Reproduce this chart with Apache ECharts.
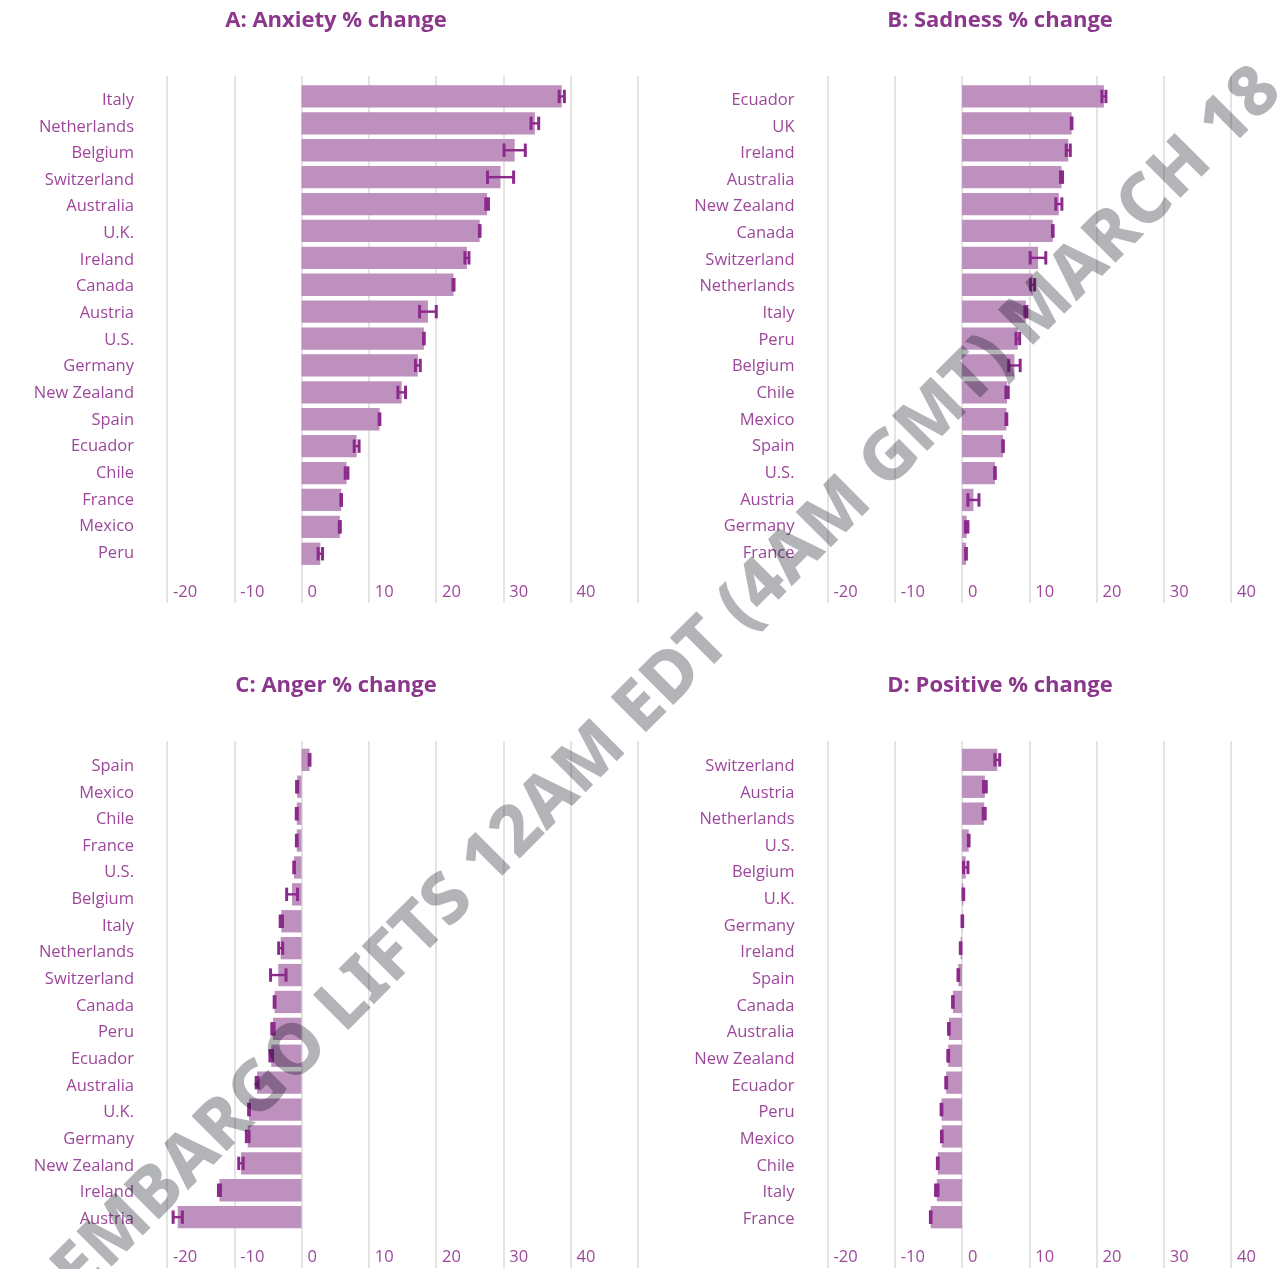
<!DOCTYPE html>
<html>
<head>
<meta charset="utf-8">
<title>Emotion % change by country</title>
<script src="https://cdn.jsdelivr.net/npm/echarts@6/dist/echarts.min.js"></script>
<style>
  html, body { margin: 0; padding: 0; background: #ffffff; }
  #chart { width: 1287px; height: 1269px; }
</style>
</head>
<body>
<div id="chart"></div>
<script>
// ---- data -------------------------------------------------------------
const anxietyCountries = ['Italy', 'Netherlands', 'Belgium', 'Switzerland', 'Australia', 'U.K.', 'Ireland', 'Canada', 'Austria', 'U.S.', 'Germany', 'New Zealand', 'Spain', 'Ecuador', 'Chile', 'France', 'Mexico', 'Peru'];
const anxietyValues = [38.7, 34.7, 31.7, 29.6, 27.6, 26.5, 24.6, 22.6, 18.8, 18.2, 17.3, 14.9, 11.6, 8.2, 6.7, 5.9, 5.7, 2.8];
const anxietyErrors = [0.39, 0.57, 1.58, 1.94, 0.2, 0.05, 0.3, 0.08, 1.24, 0.05, 0.36, 0.57, 0.05, 0.36, 0.2, 0.05, 0.07, 0.33];

const sadnessCountries = ['Ecuador', 'UK', 'Ireland', 'Australia', 'New Zealand', 'Canada', 'Switzerland', 'Netherlands', 'Italy', 'Peru', 'Belgium', 'Chile', 'Mexico', 'Spain', 'U.S.', 'Austria', 'Germany', 'France'];
const sadnessValues = [21.1, 16.3, 15.8, 14.8, 14.4, 13.5, 11.3, 10.5, 9.5, 8.3, 7.8, 6.7, 6.6, 6.1, 4.9, 1.7, 0.7, 0.6];
const sadnessErrors = [0.3, 0.05, 0.3, 0.15, 0.45, 0.05, 1.16, 0.3, 0.15, 0.27, 0.85, 0.18, 0.06, 0.05, 0.05, 0.82, 0.18, 0.05];

const angerCountries = ['Spain', 'Mexico', 'Chile', 'France', 'U.S.', 'Belgium', 'Italy', 'Netherlands', 'Switzerland', 'Canada', 'Peru', 'Ecuador', 'Australia', 'U.K.', 'Germany', 'New Zealand', 'Ireland', 'Austria'];
const angerValues = [1.2, -0.65, -0.7, -0.7, -1.1, -1.4, -3.0, -3.1, -3.45, -4.0, -4.25, -4.5, -6.6, -7.8, -8.0, -9.0, -12.2, -18.4];
const angerErrors = [0.06, 0.08, 0.08, 0.06, 0.05, 0.81, 0.17, 0.3, 1.15, 0.06, 0.17, 0.2, 0.14, 0.06, 0.2, 0.33, 0.15, 0.69];

const positiveCountries = ['Switzerland', 'Austria', 'Netherlands', 'U.S.', 'Belgium', 'U.K.', 'Germany', 'Ireland', 'Spain', 'Canada', 'Australia', 'New Zealand', 'Ecuador', 'Peru', 'Mexico', 'Chile', 'Italy', 'France'];
const positiveValues = [5.25, 3.4, 3.3, 1.0, 0.55, 0.2, 0.05, -0.2, -0.55, -1.35, -1.95, -2.05, -2.35, -3.05, -3.0, -3.6, -3.75, -4.65];
const positiveErrors = [0.36, 0.21, 0.15, 0.05, 0.33, 0.05, 0.05, 0.05, 0.05, 0.05, 0.05, 0.06, 0.06, 0.06, 0.05, 0.06, 0.18, 0.05];

const panelTitles = ['A: Anxiety % change', 'B: Sadness % change', 'C: Anger % change', 'D: Positive % change'];
const xMin = -20, xMax = 50, xStep = 10, xLastLabel = 40;
const embargoText = 'EMBARGO LIFTS 12AM EDT (4AM GMT) MARCH 18';

// ---- styling ----------------------------------------------------------
const PAGE_W = 1287;
const FONT = '"Open Sans", "Noto Sans", sans-serif';
const TITLE_COLOR = '#8b378b';
const LABEL_COLOR = '#9d479b';
const BAR_COLOR = '#bd90bd';
const ERR_COLOR = '#8c2a8c';
const GRID_COLOR = '#dedede';
// near-black at low alpha: reads as a neutral grey on white and darkens whatever lies beneath
const NOTICE_COLOR = 'rgba(2, 8, 19, 0.3)';
const UNIT_PX = 6.725;            // pixels per percentage point

// panel frames (pixels)
const columnLefts = [167, 827.5];
const rows = [
  { ruleTop: 76, ruleBottom: 603, barTop: 83, labelTop: 86.9, titleY: 21 },
  { ruleTop: 741, ruleBottom: 1268, barTop: 746.4, labelTop: 752.9, titleY: 686 }
];
const BAR_BAND = 26.9;
const LABEL_BAND = 26.64;
const titleCenters = [336, 1000];

const panels = [
  { countries: anxietyCountries, values: anxietyValues, errors: anxietyErrors },
  { countries: sadnessCountries, values: sadnessValues, errors: sadnessErrors },
  { countries: angerCountries, values: angerValues, errors: angerErrors },
  { countries: positiveCountries, values: positiveValues, errors: positiveErrors }
];

function renderErrorBar(params, api) {
  const idx = api.value(0);
  const lo = api.coord([api.value(1), idx]);
  const hi = api.coord([api.value(2), idx]);
  const half = 6.7;
  const capStyle = { stroke: ERR_COLOR, lineWidth: 3, fill: null };
  const barStyle = { stroke: ERR_COLOR, lineWidth: 2.4, fill: null };
  return {
    type: 'group',
    children: [
      { type: 'line', shape: { x1: lo[0], y1: lo[1], x2: hi[0], y2: hi[1] }, style: barStyle },
      { type: 'line', shape: { x1: lo[0], y1: lo[1] - half, x2: lo[0], y2: lo[1] + half }, style: capStyle },
      { type: 'line', shape: { x1: hi[0], y1: hi[1] - half, x2: hi[0], y2: hi[1] + half }, style: capStyle }
    ]
  };
}

const grid = [], xAxis = [], yAxis = [], series = [], graphic = [];

panels.forEach((p, i) => {
  const left = columnLefts[i % 2];
  const row = rows[Math.floor(i / 2)];
  // the right-hand column runs off the page edge, so its axis stops there
  const max = Math.min(xMax, xMin + (PAGE_W - left) / UNIT_PX);
  const width = (max - xMin) * UNIT_PX;
  const n = p.countries.length;

  const gRule = grid.length;
  grid.push({ left: left, top: row.ruleTop, width: width, height: row.ruleBottom - row.ruleTop });
  const gLabel = grid.length;
  grid.push({ left: left, top: row.labelTop, width: width, height: LABEL_BAND * n });
  const gBar = grid.length;
  grid.push({ left: left, top: row.barTop, width: width, height: BAR_BAND * n });

  // vertical rules and tick labels
  xAxis.push({
    type: 'value', gridIndex: gRule, min: xMin, max: max, interval: xStep,
    axisLine: { show: false }, axisTick: { show: false },
    splitLine: { show: true, showMaxLine: max === xMax, lineStyle: { color: GRID_COLOR, width: 1.6 } },
    axisLabel: {
      inside: true, margin: 11, align: 'left', verticalAlign: 'middle',
      padding: [0, 0, 0, 6], color: LABEL_COLOR, fontFamily: FONT, fontSize: 16.5,
      showMaxLabel: false,
      formatter: v => (v > xLastLabel ? '' : String(v))
    }
  });
  yAxis.push({ type: 'value', gridIndex: gRule, show: false, min: 0, max: 1 });

  // country names
  xAxis.push({ type: 'value', gridIndex: gLabel, min: xMin, max: max, show: false });
  yAxis.push({
    type: 'category', gridIndex: gLabel, data: p.countries, inverse: true,
    axisLine: { show: false }, axisTick: { show: false }, splitLine: { show: false },
    axisLabel: { margin: 33, color: LABEL_COLOR, fontFamily: FONT, fontSize: 16.5 }
  });

  // bars and error bars
  xAxis.push({ type: 'value', gridIndex: gBar, min: xMin, max: max, interval: xStep, show: false });
  yAxis.push({ type: 'category', gridIndex: gBar, data: p.countries, inverse: true, show: false });

  const xi = xAxis.length - 1, yi = yAxis.length - 1;
  series.push({
    type: 'bar', xAxisIndex: xi, yAxisIndex: yi,
    data: p.values, barWidth: '83%',
    itemStyle: { color: BAR_COLOR }, silent: true, animation: false
  });
  series.push({
    type: 'custom', xAxisIndex: xi, yAxisIndex: yi,
    renderItem: renderErrorBar,
    encode: { x: [1, 2], y: 0 },
    data: p.values.map((v, k) => [k, v - p.errors[k], v + p.errors[k]]),
    z: 5, silent: true, animation: false
  });

  graphic.push({
    type: 'text', x: titleCenters[i % 2], y: row.titleY, z: 10,
    style: {
      text: panelTitles[i], fill: TITLE_COLOR,
      font: 'bold 22px ' + FONT, align: 'center', verticalAlign: 'middle'
    }
  });
});

// diagonal notice across the whole page, on top of marks and labels
graphic.push({
  type: 'text', x: 668, y: 682, rotation: 45 * Math.PI / 180, z: 100, silent: true,
  style: {
    text: embargoText, fill: NOTICE_COLOR,
    font: '800 70px "Noto Sans", "Open Sans", sans-serif',
    align: 'center', verticalAlign: 'middle'
  }
});

const chart = echarts.init(document.getElementById('chart'), null, { renderer: 'canvas' });
chart.setOption({
  backgroundColor: '#ffffff',
  animation: false,
  grid, xAxis, yAxis, series, graphic
});
</script>
</body>
</html>
